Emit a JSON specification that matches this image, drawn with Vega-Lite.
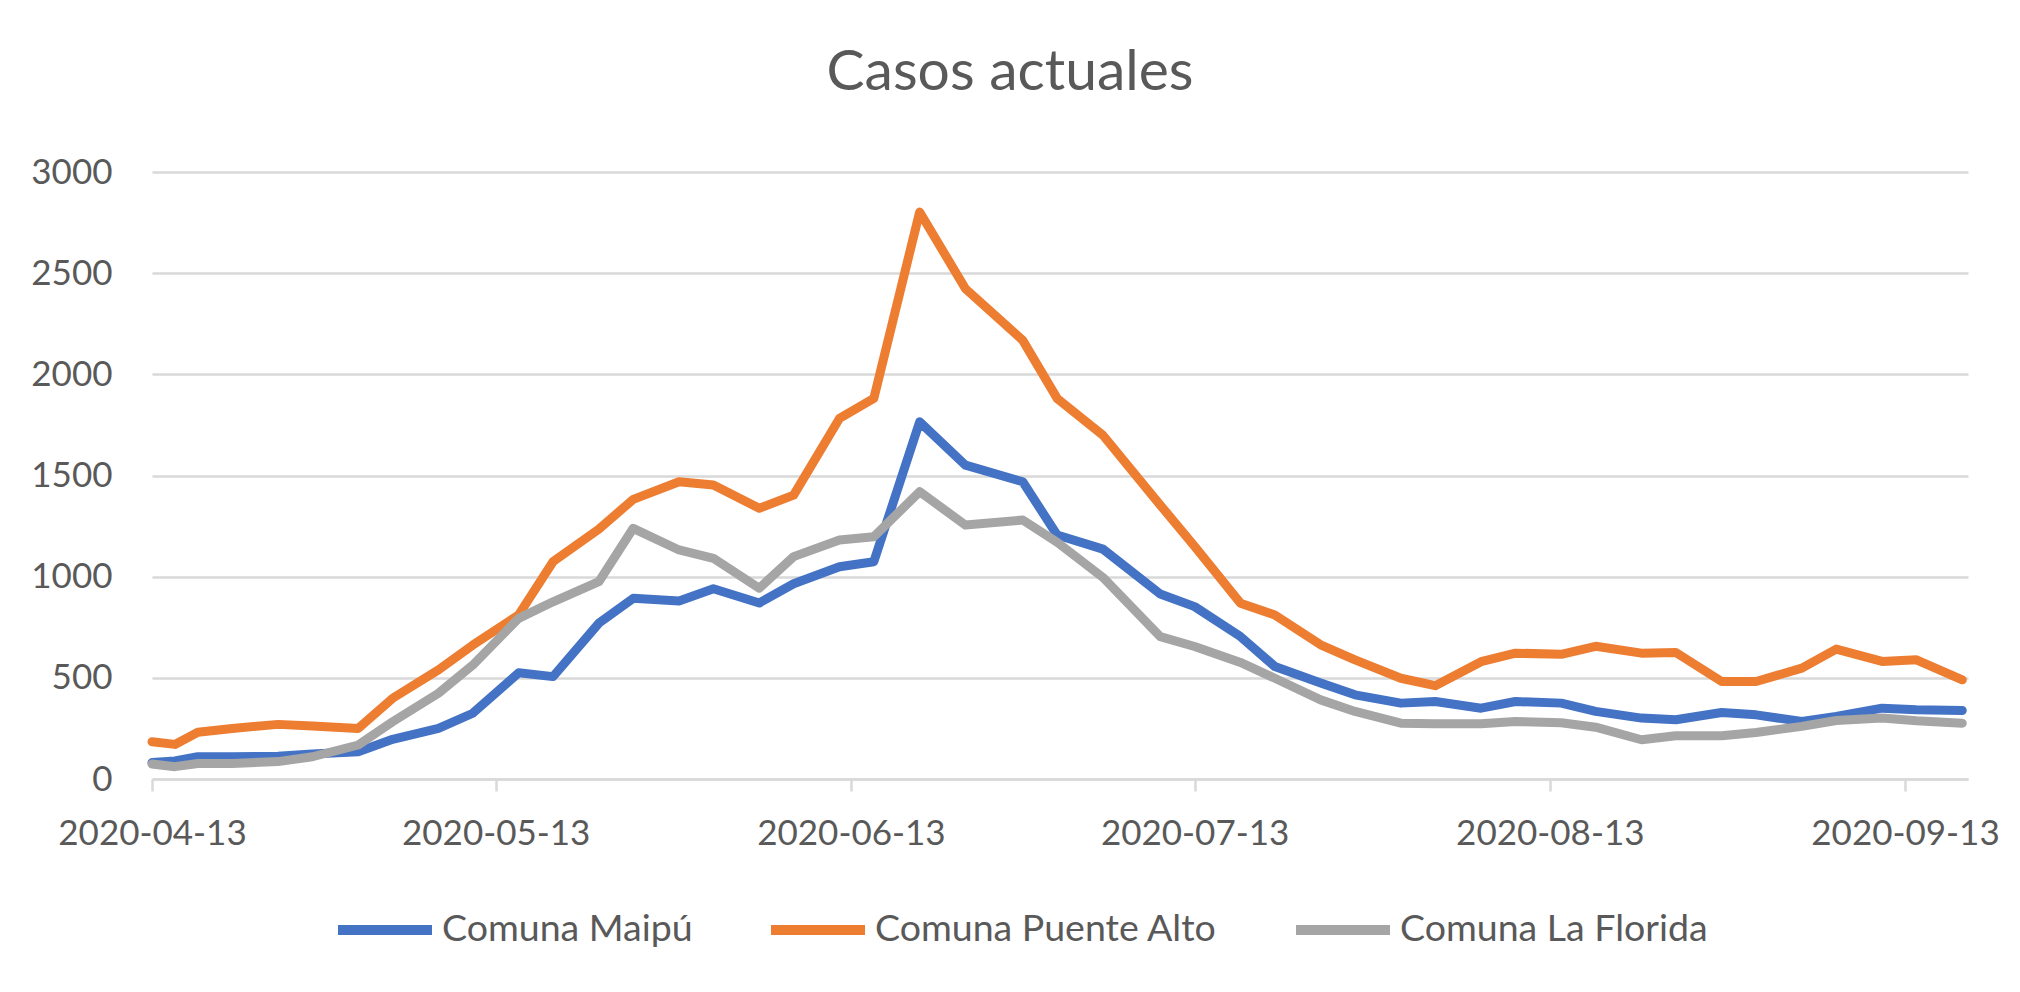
{
  "$schema": "https://vega.github.io/schema/vega-lite/v6.json",
  "autosize": "none",
  "width": 1816,
  "height": 607,
  "padding": {"left": 152, "top": 172, "right": 52, "bottom": 213},
  "background": "white",
  "title": {"text": "Casos actuales", "fontSize": 57, "font": "Lato", "fontWeight": "normal", "color": "#595959", "anchor": "middle", "dx": -50, "offset": 53},
  "data": {"values": [
    {"fecha": "2020-04-13", "Comuna Maipú": 81, "Comuna Puente Alto": 184, "Comuna La Florida": 74},
    {"fecha": "2020-04-15", "Comuna Maipú": 89, "Comuna Puente Alto": 171, "Comuna La Florida": 61},
    {"fecha": "2020-04-17", "Comuna Maipú": 110, "Comuna Puente Alto": 231, "Comuna La Florida": 77},
    {"fecha": "2020-04-20", "Comuna Maipú": 110, "Comuna Puente Alto": 250, "Comuna La Florida": 77},
    {"fecha": "2020-04-24", "Comuna Maipú": 112, "Comuna Puente Alto": 270, "Comuna La Florida": 86},
    {"fecha": "2020-04-27", "Comuna Maipú": 124, "Comuna Puente Alto": 262, "Comuna La Florida": 110},
    {"fecha": "2020-05-01", "Comuna Maipú": 135, "Comuna Puente Alto": 250, "Comuna La Florida": 168},
    {"fecha": "2020-05-04", "Comuna Maipú": 196, "Comuna Puente Alto": 399, "Comuna La Florida": 283},
    {"fecha": "2020-05-08", "Comuna Maipú": 250, "Comuna Puente Alto": 539, "Comuna La Florida": 424},
    {"fecha": "2020-05-11", "Comuna Maipú": 325, "Comuna Puente Alto": 662, "Comuna La Florida": 563},
    {"fecha": "2020-05-15", "Comuna Maipú": 525, "Comuna Puente Alto": 811, "Comuna La Florida": 794},
    {"fecha": "2020-05-18", "Comuna Maipú": 506, "Comuna Puente Alto": 1074, "Comuna La Florida": 876},
    {"fecha": "2020-05-22", "Comuna Maipú": 770, "Comuna Puente Alto": 1235, "Comuna La Florida": 975},
    {"fecha": "2020-05-25", "Comuna Maipú": 893, "Comuna Puente Alto": 1382, "Comuna La Florida": 1239},
    {"fecha": "2020-05-29", "Comuna Maipú": 880, "Comuna Puente Alto": 1469, "Comuna La Florida": 1132},
    {"fecha": "2020-06-01", "Comuna Maipú": 940, "Comuna Puente Alto": 1453, "Comuna La Florida": 1091},
    {"fecha": "2020-06-05", "Comuna Maipú": 870, "Comuna Puente Alto": 1338, "Comuna La Florida": 943},
    {"fecha": "2020-06-08", "Comuna Maipú": 965, "Comuna Puente Alto": 1403, "Comuna La Florida": 1099},
    {"fecha": "2020-06-12", "Comuna Maipú": 1049, "Comuna Puente Alto": 1782, "Comuna La Florida": 1181},
    {"fecha": "2020-06-15", "Comuna Maipú": 1074, "Comuna Puente Alto": 1881, "Comuna La Florida": 1197},
    {"fecha": "2020-06-19", "Comuna Maipú": 1765, "Comuna Puente Alto": 2802, "Comuna La Florida": 1420},
    {"fecha": "2020-06-23", "Comuna Maipú": 1551, "Comuna Puente Alto": 2423, "Comuna La Florida": 1255},
    {"fecha": "2020-06-28", "Comuna Maipú": 1469, "Comuna Puente Alto": 2168, "Comuna La Florida": 1280},
    {"fecha": "2020-07-01", "Comuna Maipú": 1206, "Comuna Puente Alto": 1881, "Comuna La Florida": 1170},
    {"fecha": "2020-07-05", "Comuna Maipú": 1136, "Comuna Puente Alto": 1699, "Comuna La Florida": 996},
    {"fecha": "2020-07-10", "Comuna Maipú": 914, "Comuna Puente Alto": 1354, "Comuna La Florida": 704},
    {"fecha": "2020-07-13", "Comuna Maipú": 852, "Comuna Puente Alto": 1150, "Comuna La Florida": 655},
    {"fecha": "2020-07-17", "Comuna Maipú": 704, "Comuna Puente Alto": 869, "Comuna La Florida": 576},
    {"fecha": "2020-07-20", "Comuna Maipú": 556, "Comuna Puente Alto": 811, "Comuna La Florida": 498},
    {"fecha": "2020-07-24", "Comuna Maipú": 474, "Comuna Puente Alto": 663, "Comuna La Florida": 391},
    {"fecha": "2020-07-27", "Comuna Maipú": 416, "Comuna Puente Alto": 589, "Comuna La Florida": 334},
    {"fecha": "2020-07-31", "Comuna Maipú": 375, "Comuna Puente Alto": 498, "Comuna La Florida": 276},
    {"fecha": "2020-08-03", "Comuna Maipú": 383, "Comuna Puente Alto": 461, "Comuna La Florida": 273},
    {"fecha": "2020-08-07", "Comuna Maipú": 350, "Comuna Puente Alto": 580, "Comuna La Florida": 273},
    {"fecha": "2020-08-10", "Comuna Maipú": 383, "Comuna Puente Alto": 622, "Comuna La Florida": 284},
    {"fecha": "2020-08-14", "Comuna Maipú": 375, "Comuna Puente Alto": 616, "Comuna La Florida": 278},
    {"fecha": "2020-08-17", "Comuna Maipú": 334, "Comuna Puente Alto": 656, "Comuna La Florida": 256},
    {"fecha": "2020-08-21", "Comuna Maipú": 301, "Comuna Puente Alto": 622, "Comuna La Florida": 194},
    {"fecha": "2020-08-24", "Comuna Maipú": 293, "Comuna Puente Alto": 625, "Comuna La Florida": 214},
    {"fecha": "2020-08-28", "Comuna Maipú": 329, "Comuna Puente Alto": 482, "Comuna La Florida": 214},
    {"fecha": "2020-08-31", "Comuna Maipú": 317, "Comuna Puente Alto": 482, "Comuna La Florida": 230},
    {"fecha": "2020-09-04", "Comuna Maipú": 284, "Comuna Puente Alto": 548, "Comuna La Florida": 260},
    {"fecha": "2020-09-07", "Comuna Maipú": 309, "Comuna Puente Alto": 642, "Comuna La Florida": 289},
    {"fecha": "2020-09-11", "Comuna Maipú": 350, "Comuna Puente Alto": 581, "Comuna La Florida": 301},
    {"fecha": "2020-09-14", "Comuna Maipú": 342, "Comuna Puente Alto": 589, "Comuna La Florida": 288},
    {"fecha": "2020-09-18", "Comuna Maipú": 339, "Comuna Puente Alto": 490, "Comuna La Florida": 276}
  ]},
  "transform": [
    {"fold": ["Comuna Maipú", "Comuna Puente Alto", "Comuna La Florida"], "as": ["serie", "casos"]}
  ],
  "mark": {"type": "line", "strokeWidth": 9, "strokeCap": "round", "strokeJoin": "round"},
  "encoding": {
    "x": {
      "field": "fecha",
      "type": "temporal",
      "scale": {"type": "utc", "domain": [
        {"year": 2020, "month": 4, "date": 13, "utc": true},
        {"year": 2020, "month": 9, "date": 18, "hours": 12, "utc": true}
      ]},
      "axis": {
        "title": null,
        "values": [
          {"year": 2020, "month": 4, "date": 13, "utc": true},
          {"year": 2020, "month": 5, "date": 13, "utc": true},
          {"year": 2020, "month": 6, "date": 13, "utc": true},
          {"year": 2020, "month": 7, "date": 13, "utc": true},
          {"year": 2020, "month": 8, "date": 13, "utc": true},
          {"year": 2020, "month": 9, "date": 13, "utc": true}
        ],
        "labelExpr": "utcFormat(datum.value, '%Y-%m-%d')",
        "grid": false,
        "domainColor": "#d9d9d9",
        "domainWidth": 2.5,
        "tickColor": "#d9d9d9",
        "tickWidth": 2.5,
        "tickSize": 12,
        "labelFont": "Lato",
        "labelFontSize": 35,
        "labelColor": "#595959",
        "labelPadding": 25,
        "labelLimit": 500,
        "labelFlush": false,
        "labelOverlap": false
      }
    },
    "y": {
      "field": "casos",
      "type": "quantitative",
      "scale": {"domain": [0, 3000]},
      "axis": {
        "title": null,
        "values": [0, 500, 1000, 1500, 2000, 2500, 3000],
        "format": "d",
        "domain": false,
        "ticks": false,
        "gridColor": "#d9d9d9",
        "gridWidth": 2.5,
        "labelFont": "Lato",
        "labelFontSize": 35,
        "labelColor": "#595959",
        "labelPadding": 40,
        "labelLimit": 300
      }
    },
    "color": {
      "field": "serie",
      "type": "nominal",
      "scale": {
        "domain": ["Comuna Maipú", "Comuna Puente Alto", "Comuna La Florida"],
        "range": ["#4472C4", "#ED7D31", "#A5A5A5"]
      },
      "legend": {
        "title": null,
        "orient": "none",
        "legendX": 181,
        "legendY": 706,
        "direction": "horizontal",
        "padding": 0,
        "symbolType": "stroke",
        "symbolSize": 8836,
        "symbolStrokeWidth": 10,
        "labelFont": "Lato",
        "labelFontSize": 37.5,
        "labelColor": "#595959",
        "labelOffset": 5,
        "columnPadding": 58,
        "labelLimit": 700
      }
    }
  },
  "config": {"view": {"stroke": null}}
}
